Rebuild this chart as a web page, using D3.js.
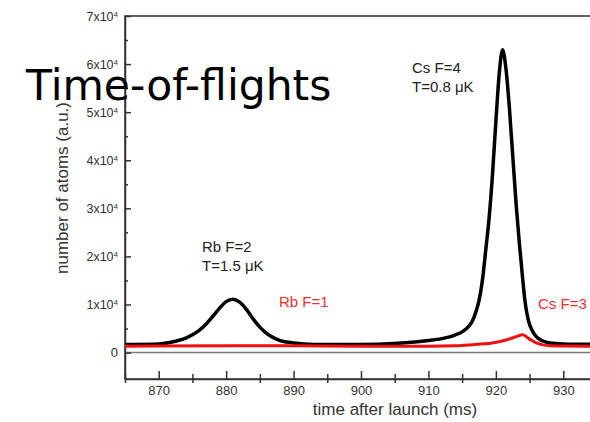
<!DOCTYPE html>
<html>
<head>
<meta charset="utf-8">
<script src="https://cdn.jsdelivr.net/npm/d3@7"></script>
<style>
  body { margin: 0; background: #fff; }
  svg { display: block; }
  .tick text { font-family: "Liberation Sans", Arial, sans-serif; fill: #333; }
  .axis path, .axis line { stroke: #333; stroke-width: 1.5; }
</style>
</head>
<body>
<div id="chart"></div>
<script>
// values (time in ms, counts in atoms a.u.)
const blackT = [865, 870, 872, 874, 875, 876, 877, 878, 879, 880, 881, 882, 883, 884, 885, 886, 887, 888, 890, 893,
  900, 905, 908, 910, 912, 913, 914, 915, 916, 916.5, 917, 917.5, 918, 918.5, 919, 919.5, 920, 920.5, 921,
  921.5, 922, 922.5, 923, 923.5, 924, 924.3, 924.8, 925.5, 926, 926.8, 928, 930, 935]
const blackN = [1700, 1800, 2200, 3000, 3700, 4600, 5900, 7500, 9200, 10600, 11100, 10500, 9000, 7000, 5300, 4000, 3100, 2500, 2000, 1700,
  1700, 1900, 2200, 2500, 2900, 3200, 3700, 4300, 5500, 6500, 8300, 10800, 15000, 21300, 28000, 37000, 48000, 58000, 63000,
  59000, 51000, 41000, 31000, 22500, 15000, 10900, 6800, 4300, 3300, 2500, 2000, 1800, 1700]

const redT = [865, 880, 890, 900, 910, 914, 917, 919, 921.5, 923, 924, 925, 926, 928, 935]
const redN = [1300, 1400, 1400, 1300, 1300, 1400, 1700, 1900, 2600, 3300, 3700, 2800, 2000, 1400, 1300]

const xMajor = [870, 880, 890, 900, 910, 920, 930]
const xMinor = [865, 875, 885, 895, 905, 915, 925, 935]
const yMajor = [0, 10000, 20000, 30000, 40000, 50000, 60000, 70000]
const yMant = ['0', '1', '2', '3', '4', '5', '6', '7']
const yMinor = [5000, 15000, 25000, 35000, 45000, 55000, 65000]

const w = 590, h = 422
const x0 = 125, x1 = 597, yTop = 16, yBot = 379

const svg = d3.select('#chart').append('svg').attr('width', w).attr('height', h)

const x = d3.scaleLinear().domain([865, 935]).range([x0, x1])
const y = d3.scaleLinear().domain([-5500, 70000]).range([yBot, yTop])

// frame
svg.append('rect')
   .attr('x', x0).attr('y', yTop).attr('width', x1 - x0).attr('height', yBot - yTop)
   .attr('fill', 'none').attr('stroke', '#333').attr('stroke-width', 1.5)

// zero line
svg.append('line')
   .attr('x1', x0).attr('x2', x1).attr('y1', y(0)).attr('y2', y(0))
   .attr('stroke', '#777').attr('stroke-width', 1.5)

// x axis
svg.append('g').attr('class', 'axis')
   .attr('transform', 'translate(0,' + yBot + ')')
   .call(d3.axisBottom(x).tickValues(xMajor).tickSize(-8).tickPadding(7).tickSizeOuter(0).tickFormat(d3.format('d')))
   .call(g => g.selectAll('text').style('font-size', '13px'))

svg.append('g').attr('class', 'axis')
   .attr('transform', 'translate(0,' + (yBot - 5) + ')')
   .call(d3.axisBottom(x).tickValues(xMinor).tickSize(9).tickFormat(''))
   .call(g => g.select('.domain').remove())

// y axis
const yAx = svg.append('g').attr('class', 'axis')
   .attr('transform', 'translate(' + x0 + ',0)')
   .call(d3.axisLeft(y).tickValues(yMajor).tickSize(-6).tickPadding(7).tickSizeOuter(0).tickFormat(''))

yAx.selectAll('.tick text').each(function(d, i) {
  const t = d3.select(this).style('font-size', '12.5px')
  if (d === 0) { t.text('0').style('font-size', '13px'); return }
  t.append('tspan').text(yMant[i] + 'x10')
  t.append('tspan').attr('dy', '-0.5em').style('font-size', '8px').text('4')
})

svg.append('g').attr('class', 'axis')
   .attr('transform', 'translate(' + x0 + ',0)')
   .call(d3.axisLeft(y).tickValues(yMinor).tickSize(-3).tickFormat(''))
   .call(g => g.select('.domain').remove())

// curves
const line = d3.line().x(d => x(d[0])).y(d => y(d[1])).curve(d3.curveMonotoneX)

svg.append('path')
   .datum(d3.zip(blackT, blackN))
   .attr('d', line)
   .attr('fill', 'none').attr('stroke', '#000').attr('stroke-width', 3.5)

svg.append('path')
   .datum(d3.zip(redT, redN))
   .attr('d', line)
   .attr('fill', 'none').attr('stroke', '#f01010').attr('stroke-width', 3)

// annotations
const lab = (tx, ty, s, c) => svg.append('text')
   .attr('x', tx).attr('y', ty).text(s)
   .attr('fill', c).style('font-family', '"Liberation Sans", Arial, sans-serif').style('font-size', '15px')

lab(412, 73, 'Cs F=4', '#222')
lab(412, 92, 'T=0.8 \u03bcK', '#222')
lab(202, 252, 'Rb F=2', '#222')
lab(202, 271, 'T=1.5 \u03bcK', '#222')
lab(279, 307, 'Rb F=1', '#f03030')
lab(538, 309, 'Cs F=3', '#f03030')

// axis titles
svg.append('text')
   .attr('x', 395).attr('y', 415).attr('text-anchor', 'middle')
   .style('font-family', '"Liberation Sans", Arial, sans-serif').style('font-size', '17px').attr('fill', '#333')
   .text('time after launch (ms)')

svg.append('text')
   .attr('transform', 'translate(68,188) rotate(-90)').attr('text-anchor', 'middle')
   .style('font-family', '"Liberation Sans", Arial, sans-serif').style('font-size', '17px').attr('fill', '#333')
   .text('number of atoms (a.u.)')

// slide title
svg.append('text')
   .attr('x', 26).attr('y', 100)
   .style('font-family', '"DejaVu Sans", Verdana, sans-serif').style('font-size', '42.5px').attr('fill', '#000')
   .text('Time-of-flights')
</script>
</body>
</html>
